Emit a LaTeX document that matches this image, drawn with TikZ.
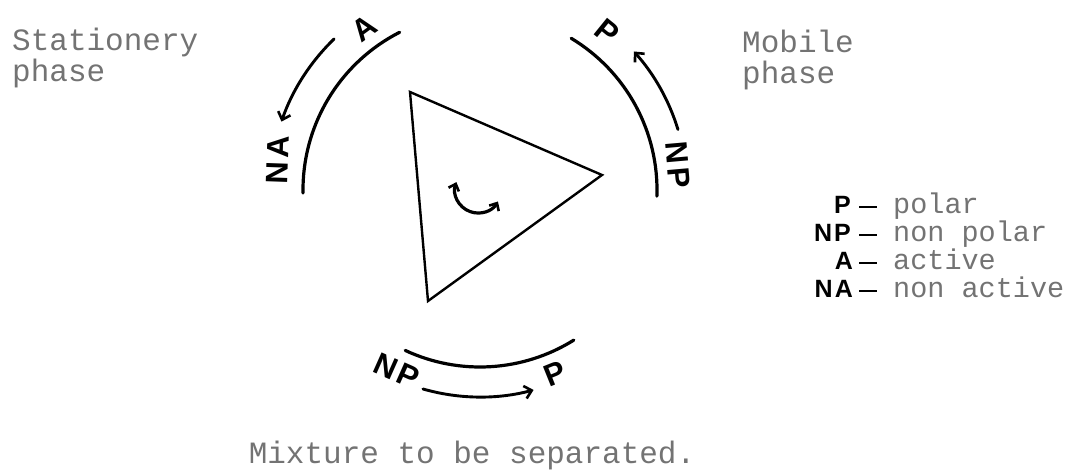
\documentclass[tikz,border=0pt]{standalone}
\usepackage{fontspec}
\setmainfont{Liberation Sans}
\newfontfamily\typew{Liberation Mono}
\newfontfamily\hand{Liberation Sans}
\usetikzlibrary{arrows.meta,calc}
\begin{document}
\begin{tikzpicture}[x=1pt,y=1pt,
  typetext/.style={font=\typew\fontsize{31}{31}\selectfont, text=black!55, inner sep=0pt},
  legtext/.style={font=\typew\fontsize{28.5}{28.5}\selectfont, text=black!55, inner sep=0pt},
  handtext/.style={font=\hand\bfseries\fontsize{31}{31}\selectfont, inner sep=0pt},
  legletter/.style={font=\hand\bfseries\fontsize{25}{25}\selectfont, inner sep=0pt},
  ring/.style={line width=3.2pt, line cap=round},
  flow/.style={line width=2.9pt, line cap=round, -{Straight Barb[length=7pt,width=13pt,line width=2.6pt]}},
  tri/.style={line width=2.4pt, line join=miter}]
\useasboundingbox (0,0) rectangle (1087,476);
\coordinate (C) at (480,286);
% triangle
\coordinate (T1) at (410,384);
\coordinate (T2) at (602,301);
\coordinate (T3) at (428,175);
\draw[tri] (T1) -- (T2) -- (T3) -- cycle;
% inner rotation arrow
\draw[line width=3.2pt, {Straight Barb[length=6pt,width=11pt,line width=2.6pt]}-{Straight Barb[length=6pt,width=11pt,line width=2.6pt]}]
  (478,286) ++(160:23) arc[start angle=160, end angle=330, radius=23];
% three arcs
\draw[ring] (C) ++(117:177) arc[start angle=117, end angle=181, radius=177];
\draw[ring] (C) ++(-2:177) arc[start angle=-2, end angle=59, radius=177];
\draw[ring] (C) ++(245:177) arc[start angle=245, end angle=302, radius=177];
% flow arrows
\draw[flow] (C) ++(134:210) arc[start angle=134, end angle=161, radius=210];
\draw[flow] (C) ++(17:207) arc[start angle=17, end angle=42, radius=207];
\draw[flow] (C) ++(254:207) arc[start angle=254, end angle=285, radius=207];
% hand letters
\node[handtext, rotate=36] (la) at (364,448) {A};
\node[handtext, rotate=88] (lna) at (278,316) {N\kern3pt A};
\node[handtext, rotate=-39] (lp) at (607,444) {P};
\node[handtext, rotate=-85] (lnp) at (678,311) {N\kern3pt P};
\node[handtext, rotate=-24] (bnp) at (397,105) {N\kern3pt P};
\node[handtext, rotate=22] (bp) at (555,102) {P};
% typewritten labels
\node[typetext, anchor=base west] (st1) at (12,425) {Stationery};
\node[typetext, anchor=base west] (st2) at (12,394) {phase};
\node[typetext, anchor=base west] (mo1) at (742,423) {Mobile};
\node[typetext, anchor=base west] (mo2) at (742,392) {phase};
\node[typetext, anchor=base] (mix) at (472,12) {Mixture to be separated.};
% legend
\node[legletter, anchor=base east] (k1) at (851,262) {P};
\node[legletter, anchor=base east] (k2) at (851,234) {N\kern2pt P};
\node[legletter, anchor=base east] (k3) at (853,206) {A};
\node[legletter, anchor=base east] (k4) at (853,178) {N\kern2pt A};
\foreach \y in {262,234,206,178}{
  \draw[line width=2pt] (859,\y+7) -- (877,\y+7);
}
\node[legtext, anchor=base west] (d1) at (893,262) {polar};
\node[legtext, anchor=base west] (d2) at (893,234) {non polar};
\node[legtext, anchor=base west] (d3) at (893,206) {active};
\node[legtext, anchor=base west] (d4) at (893,178) {non active};
\end{tikzpicture}
\end{document}
